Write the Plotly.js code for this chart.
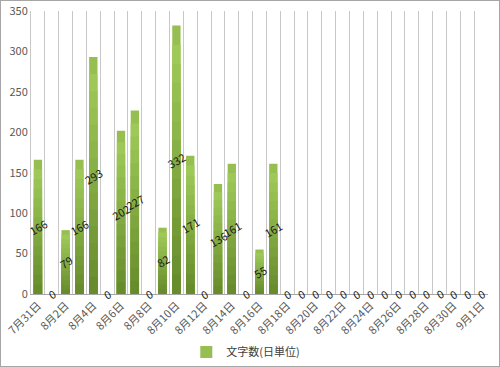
<!DOCTYPE html>
<html><head><meta charset="utf-8">
<script src="https://cdn.plot.ly/plotly-3.0.1.min.js"></script>
<style>
html,body{margin:0;padding:0;background:#fff;}
#wrap{width:498px;height:365px;border:1px solid #a6a6a6;}
#chart{width:498px;height:365px;}
</style></head>
<body><div id="wrap"><div id="chart"></div></div>
<script>
const dates = ["7月31日","8月1日","8月2日","8月3日","8月4日","8月5日","8月6日","8月7日","8月8日","8月9日","8月10日","8月11日","8月12日","8月13日","8月14日","8月15日","8月16日","8月17日","8月18日","8月19日","8月20日","8月21日","8月22日","8月23日","8月24日","8月25日","8月26日","8月27日","8月28日","8月29日","8月30日","8月31日","9月1日"];
const chars = [166,0,79,166,293,0,202,227,0,82,332,171,0,136,161,0,55,161,0,0,0,0,0,0,0,0,0,0,0,0,0,0,0];
const tickLabels = ["7月31日","8月2日","8月4日","8月6日","8月8日","8月10日","8月12日","8月14日","8月16日","8月18日","8月20日","8月22日","8月24日","8月26日","8月28日","8月30日","9月1日"];
const seriesName = "文字数(日単位)";

const FONT = '"Noto Sans CJK JP", "Noto Sans", sans-serif';
const light = [162,206,92], dark = [104,140,44];
const N = 14;
const traces = [];
for (let k = 0; k < N; k++) {
  const t = k/(N-1);
  const c = light.map((v,i)=>Math.round(v + (dark[i]-v)*t));
  traces.push({
    type:'bar', x: dates, y: chars.map(v => v*(1-k/N)),
    name: seriesName, showlegend: k===0,
    marker:{color:`rgb(${c[0]},${c[1]},${c[2]})`, line:{width:0}},
    hoverinfo:'skip'
  });
}
traces[0].marker.color = 'rgb(150,190,80)';

const annotations = dates.map((d,i)=>({
  x:d, y:chars[i]/2, xref:'x', yref:'y', text:String(chars[i]),
  showarrow:false, textangle:-30, font:{family:FONT,size:11,color:'#1a1a1a'}
}));

const layout = {
  width:498, height:365,
  margin:{l:30,r:11,t:10,b:72,autoexpand:false},
  paper_bgcolor:'#fff', plot_bgcolor:'#fff',
  barmode:'overlay', bargap:0.4,
  font:{family:FONT,size:11,color:'#595959'},
  xaxis:{type:'category', categoryorder:'array', categoryarray:dates,
    tickson:'boundaries', showgrid:true, gridcolor:'#c8c8c8', gridwidth:1,
    tickvals:dates, ticktext:dates.map(d=>tickLabels.includes(d)?d:''),
    tickangle:-45, tickfont:{size:11,color:'#595959'}, ticks:'', automargin:false,
    showline:true, linecolor:'#a6a6a6', linewidth:1, zeroline:false,
    range:[-0.5, dates.length-0.5], fixedrange:true},
  yaxis:{range:[0,350], dtick:50, showgrid:false, zeroline:false, automargin:false,
    showline:true, linecolor:'#c8c8c8', ticks:'', tickfont:{size:11,color:'#595959'}},
  legend:{orientation:'h', x:0.47, xanchor:'center', y:-0.205, yanchor:'middle',
    font:{size:11,color:'#404040'}},
  annotations: annotations
};
Plotly.newPlot('chart', traces, layout, {displayModeBar:false, staticPlot:true});
</script></body></html>
